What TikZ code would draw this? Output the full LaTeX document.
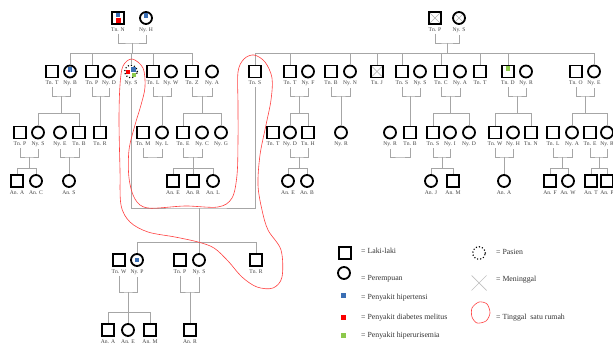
\documentclass[tikz,border=0pt]{standalone}
\usepackage{fontspec}
\setmainfont{Liberation Serif}
\usetikzlibrary{positioning,calc}

\definecolor{hipblue}{RGB}{58,110,180}
\definecolor{dmred}{RGB}{250,0,0}
\definecolor{hugreen}{RGB}{140,200,75}

\tikzset{
  male/.style={draw, line width=1.8pt, minimum size=12pt, inner sep=0pt},
  female/.style={male, circle},
  patient/.style={circle, draw, line width=1.6pt, dash pattern=on 0pt off 3.1pt, line cap=round, minimum size=12.5pt, inner sep=0pt},
  dead/.style={path picture={\draw[black!30, line width=0.6pt]
      (path picture bounding box.north west) -- (path picture bounding box.south east)
      (path picture bounding box.north east) -- (path picture bounding box.south west);}},
  ht/.style={fill=hipblue, minimum size=4.5pt, inner sep=0pt},
  dm/.style={fill=dmred, minimum size=4.5pt, inner sep=0pt},
  hu/.style={fill=hugreen, minimum size=4.5pt, inner sep=0pt},
  lbl/.style={font=\fontsize{5.6}{6}\selectfont, text=black!75, inner sep=0.5pt, outer sep=2pt},
  leg/.style={font=\fontsize{7.8}{8}\selectfont, text=black!80, inner sep=0pt, anchor=west},
  link/.style={draw=black!35, line width=0.8pt},
  home/.style={draw=red!75, line width=0.6pt}
}

\begin{document}
\begin{tikzpicture}[x=1pt, y=-1pt]
\useasboundingbox (0,0) rectangle (613,344);

% generasi I
\node[male, label={[lbl,name=tnN-l]below:Tn. N}] (tnN) at (118,18) {};
\node[ht, minimum height=4pt, yshift=2.8pt] (tnN-h) at (tnN) {};
\node[dm, minimum size=5pt, yshift=-2.4pt] (tnN-d) at (tnN) {};
\node[female, label={[lbl,name=nyH-l]below:Ny. H}] (nyH) at (146,18) {};
\node[ht, yshift=2.5pt] (nyH-h) at (nyH) {};
\node[male, dead, label={[lbl,name=tnP0-l]below:Tn. P}] (tnP0) at (435,18) {};
\node[female, dead, label={[lbl,name=nyS0-l]below:Ny. S}] (nyS0) at (459,18) {};

% generasi II
\node[male, label={[lbl,name=tnT-l]below:Tn. T}] (tnT) at (52,71.5) {};
\node[female, label={[lbl,name=nyB-l]below:Ny. B}] (nyB) at (70,71.5) {};
\node[ht, yshift=2.2pt] (nyB-h) at (nyB) {};
\node[male, label={[lbl,name=tnP-l]below:Tn. P}] (tnP) at (92,71.5) {};
\node[female, label={[lbl,name=nyD-l]below:Ny. D}] (nyD) at (109,71.5) {};
\node[patient, label={[lbl,name=pas-l]below:Ny. S}] (pas) at (131,71.5) {};
\node[dm, xshift=-3pt, yshift=-0.5pt] (pas-d) at (pas) {};
\node[ht, xshift=2.5pt, yshift=2pt] (pas-h) at (pas) {};
\node[hu, minimum size=4pt, xshift=3.2pt, yshift=-3.3pt] (pas-u) at (pas) {};
\node[male, label={[lbl,name=tnL-l]below:Tn. L}] (tnL) at (153,71.5) {};
\node[female, label={[lbl,name=nyW-l]below:Ny. W}] (nyW) at (171,71.5) {};
\node[male, label={[lbl,name=tnZ-l]below:Tn. Z}] (tnZ) at (192,71.5) {};
\node[female, label={[lbl,name=nyA-l]below:Ny. A}] (nyA) at (212,71.5) {};

\node[male, label={[lbl,name=tnS-l]below:Tn. S}] (tnS) at (255,71.5) {};
\node[male, label={[lbl,name=tnT2-l]below:Tn. T}] (tnT2) at (290,71.5) {};
\node[female, label={[lbl,name=nyF-l]below:Ny. F}] (nyF) at (308,71.5) {};
\node[male, label={[lbl,name=tnB-l]below:Tn. B}] (tnB) at (331,71.5) {};
\node[female, label={[lbl,name=nyN-l]below:Ny. N}] (nyN) at (350,71.5) {};
\node[male, dead, label={[lbl,name=tnJ-l]below:Tn. J}] (tnJ) at (377,71.5) {};
\node[male, label={[lbl,name=tnS2-l]below:Tn. S}] (tnS2) at (402,71.5) {};
\node[female, label={[lbl,name=nyS2-l]below:Ny. S}] (nyS2) at (420,71.5) {};
\node[male, label={[lbl,name=tnC-l]below:Tn. C}] (tnC) at (441,71.5) {};
\node[female, label={[lbl,name=nyA2-l]below:Ny. A}] (nyA2) at (460,71.5) {};
\node[male, label={[lbl,name=tnT3-l]below:Tn. T}] (tnT3) at (480,71.5) {};
\node[male, label={[lbl,name=tnD-l]below:Tn. D}] (tnD) at (508,71.5) {};
\node[hu, yshift=3pt] (tnD-u) at (tnD) {};
\node[female, label={[lbl,name=nyR-l]below:Ny. R}] (nyR) at (526,71.5) {};
\node[male, label={[lbl,name=tnO-l]below:Tn. O}] (tnO) at (576,71.5) {};
\node[female, label={[lbl,name=nyE-l]below:Ny. E}] (nyE) at (594,71.5) {};

% generasi III
\node[male, label={[lbl,name=tnP3-l]below:Tn. P}] (tnP3) at (20,132.5) {};
\node[female, label={[lbl,name=nyS3-l]below:Ny. S}] (nyS3) at (38,132.5) {};
\node[female, label={[lbl,name=nyE3-l]below:Ny. E}] (nyE3) at (60,132.5) {};
\node[male, label={[lbl,name=tnB3-l]below:Tn. B}] (tnB3) at (79,132.5) {};
\node[male, label={[lbl,name=tnR3-l]below:Tn. R}] (tnR3) at (100,132.5) {};
\node[male, label={[lbl,name=tnM-l]below:Tn. M}] (tnM) at (143,132.5) {};
\node[female, label={[lbl,name=nyL-l]below:Ny. L}] (nyL) at (162,132.5) {};
\node[male, label={[lbl,name=tnE-l]below:Tn. E}] (tnE) at (183,132.5) {};
\node[female, label={[lbl,name=nyC-l]below:Ny. C}] (nyC) at (202,132.5) {};
\node[female, label={[lbl,name=nyG-l]below:Ny. G}] (nyG) at (221,132.5) {};

\node[male, label={[lbl,name=tnT4-l]below:Tn. T}] (tnT4) at (273,132.5) {};
\node[female, label={[lbl,name=nyD4-l]below:Ny. D}] (nyD4) at (290,132.5) {};
\node[male, label={[lbl,name=tnH-l]below:Tn. H}] (tnH) at (308,132.5) {};
\node[female, label={[lbl,name=nyR4-l]below:Ny. R}] (nyR4) at (341,132.5) {};
\node[female, label={[lbl,name=nyR5-l]below:Ny. R}] (nyR5) at (390,132.5) {};
\node[male, label={[lbl,name=tnB5-l]below:Tn. B}] (tnB5) at (410,132.5) {};
\node[male, label={[lbl,name=tnS6-l]below:Tn. S}] (tnS6) at (433,132.5) {};
\node[female, label={[lbl,name=nyI-l]below:Ny. I}] (nyI) at (450,132.5) {};
\node[female, label={[lbl,name=nyD6-l]below:Ny. D}] (nyD6) at (469,132.5) {};
\node[male, label={[lbl,name=tnW-l]below:Tn. W}] (tnW) at (495,132.5) {};
\node[female, label={[lbl,name=nyH7-l]below:Ny. H}] (nyH7) at (513,132.5) {};
\node[male, label={[lbl,name=tnN7-l]below:Tn. N}] (tnN7) at (531,132.5) {};
\node[male, label={[lbl,name=tnL8-l]below:Tn. L}] (tnL8) at (553,132.5) {};
\node[female, label={[lbl,name=nyA8-l]below:Ny. A}] (nyA8) at (572,132.5) {};
\node[male, label={[lbl,name=tnE8-l]below:Tn. E}] (tnE8) at (590,132.5) {};
\node[female, label={[lbl,name=nyR8-l]below:Ny. R}] (nyR8) at (607,132.5) {};

% generasi IV
\node[male, label={[lbl,name=anA-l]below:An. A}] (anA) at (17,181) {};
\node[female, label={[lbl,name=anC-l]below:An. C}] (anC) at (36,181) {};
\node[female, label={[lbl,name=anS-l]below:An. S}] (anS) at (69,181) {};
\node[male, label={[lbl,name=anE-l]below:An. E}] (anE) at (173,181) {};
\node[male, label={[lbl,name=anR-l]below:An. R}] (anR) at (193,181) {};
\node[female, label={[lbl,name=anL-l]below:An. L}] (anL) at (213,181) {};
\node[female, label={[lbl,name=anE2-l]below:An. E}] (anE2) at (288,181) {};
\node[female, label={[lbl,name=anB2-l]below:An. B}] (anB2) at (307,181) {};
\node[female, label={[lbl,name=anJ-l]below:An. J}] (anJ) at (431,181) {};
\node[male, label={[lbl,name=anM-l]below:An. M}] (anM) at (453,181) {};
\node[female, label={[lbl,name=anA2-l]below:An. A}] (anA2) at (504,181) {};
\node[male, label={[lbl,name=anF-l]below:An. F}] (anF) at (550,181) {};
\node[female, label={[lbl,name=anW-l]below:An. W}] (anW) at (568,181) {};
\node[male, label={[lbl,name=anT-l]below:An. T}] (anT) at (591,181) {};
\node[male, label={[lbl,name=anP-l]below:An. P}] (anP) at (607,181) {};

% anak dan cucu pasien
\node[male, label={[lbl,name=tnW9-l]below:Tn. W}] (tnW9) at (119,260) {};
\node[female, label={[lbl,name=nyP-l]below:Ny. P}] (nyP) at (137,260) {};
\node[ht] (nyP-h) at (nyP) {};
\node[male, label={[lbl,name=tnP9-l]below:Tn. P}] (tnP9) at (180,260) {};
\node[female, label={[lbl,name=nyS9-l]below:Ny. S}] (nyS9) at (199,260) {};
\node[male, label={[lbl,name=tnR9-l]below:Tn. R}] (tnR9) at (256,260) {};
\node[male, label={[lbl,name=anA3-l]below:An. A}] (anA3) at (108,330) {};
\node[female, label={[lbl,name=anE3-l]below:An. E}] (anE3) at (128,330) {};
\node[male, label={[lbl,name=anM3-l]below:An. M}] (anM3) at (150,330) {};
\node[male, label={[lbl,name=anR3-l]below:An. R}] (anR3) at (190,330) {};

% titik bantu garis
\coordinate (lv2) at (0,53);
\coordinate (lv3) at (0,113);
\coordinate (lv4) at (0,168);
\coordinate (lv5) at (0,242);
\coordinate (lv6) at (0,312);
\coordinate (c0) at (132,43);   \coordinate (c00) at (447,43);
\coordinate (cTB) at (61,96);   \coordinate (cPD) at (100,96);
\coordinate (cLW) at (162,96);  \coordinate (cZA) at (202,96);
\coordinate (cST) at (199,208);
\coordinate (cTF) at (299,96);  \coordinate (cBN) at (341,96);
\coordinate (cSN) at (410,96);  \coordinate (cCA) at (450,96);
\coordinate (cDR) at (517,96);  \coordinate (cOE) at (585,96);
\coordinate (cPS) at (29,157);  \coordinate (cEB) at (69,157);
\coordinate (cML) at (152,157); \coordinate (cEC) at (193,157);
\coordinate (cDH) at (299,157); \coordinate (cRB) at (400,157);
\coordinate (cSI) at (442,157); \coordinate (cWH) at (504,157);
\coordinate (cLA) at (562,157); \coordinate (cER) at (599,157);
\coordinate (cWP) at (128,292); \coordinate (cPS9) at (190,292);

% pernikahan
\foreach \pa/\pb/\cp in {tnN/nyH/c0, tnP0/nyS0/c00, tnT/nyB/cTB, tnP/nyD/cPD,
    tnL/nyW/cLW, tnZ/nyA/cZA, pas/tnS/cST, tnT2/nyF/cTF, tnB/nyN/cBN,
    tnS2/nyS2/cSN, tnC/nyA2/cCA, tnD/nyR/cDR, tnO/nyE/cOE, tnP3/nyS3/cPS,
    nyE3/tnB3/cEB, tnM/nyL/cML, tnE/nyC/cEC, nyD4/tnH/cDH, nyR5/tnB5/cRB,
    tnS6/nyI/cSI, tnW/nyH7/cWH, tnL8/nyA8/cLA, tnE8/nyR8/cER,
    tnW9/nyP/cWP, tnP9/nyS9/cPS9}
  \draw[link] (\pa-l.south) |- (\cp) -| (\pb-l.south);

% keturunan
\draw[link] (c0) -- (c0 |- lv2);
\draw[link] (nyB.north) -- (nyB.north |- lv2) -- (tnZ.north |- lv2) -- (tnZ.north);
\foreach \p in {tnP,pas,tnL}
  \draw[link] (\p.north) -- (\p.north |- lv2);
\draw[link] (c00) -- (c00 |- lv2);
\draw[link] (tnS.north) -- (tnS.north |- lv2) -- (nyE.north |- lv2) -- (nyE.north);
\foreach \p in {tnT2,nyN,tnJ,tnS2,tnC,tnT3,tnD}
  \draw[link] (\p.north) -- (\p.north |- lv2);

\draw[link] (cTB) -- (cTB |- lv3);
\draw[link] (nyS3.north) -- (nyS3.north |- lv3) -- (tnB3.north |- lv3) -- (tnB3.north);
\draw[link] (cPD) -- (cPD |- tnR3.north);
\draw[link] (cLW) -- (cLW |- nyL.north);
\draw[link] (cZA) -- (cZA |- lv3);
\draw[link] (tnE.north) -- (tnE.north |- lv3) -- (nyG.north |- lv3) -- (nyG.north);
\draw[link] (cTF) -- (cTF |- lv3);
\draw[link] (nyD4.north) -- (nyD4.north |- lv3) -- (tnH.north |- lv3) -- (tnH.north);
\draw[link] (cBN) -- (cBN |- nyR4.north);
\draw[link] (cSN) -- (cSN |- tnB5.north);
\draw[link] (cCA) -- (cCA |- lv3);
\draw[link] (tnS6.north) -- (tnS6.north |- lv3) -- (nyD6.north |- lv3) -- (nyD6.north);
\draw[link] (cDR) -- (cDR |- lv3);
\draw[link] (tnW.north) -- (tnW.north |- lv3) -- (tnN7.north |- lv3) -- (tnN7.north);
\draw[link] (cOE) -- (cOE |- lv3);
\draw[link] (nyA8.north) -- (nyA8.north |- lv3) -- (nyR8.north |- lv3) -- (nyR8.north);

\draw[link] (cPS) -- (cPS |- lv4);
\draw[link] (anA.north) -- (anA.north |- lv4) -- (anC.north |- lv4) -- (anC.north);
\draw[link] (cEB) -- (cEB |- anS.north);
\draw[link] (cEC) -- (cEC |- anR.north);
\draw[link] (anE.north) -- (anE.north |- lv4) -- (anL.north |- lv4) -- (anL.north);
\draw[link] (cDH) -- (cDH |- lv4);
\draw[link] (anE2.north) -- (anE2.north |- lv4) -- (anB2.north |- lv4) -- (anB2.north);
\draw[link] (cSI) -- (cSI |- lv4);
\draw[link] (anJ.north) -- (anJ.north |- lv4) -- (anM.north |- lv4) -- (anM.north);
\draw[link] (cWH) -- (cWH |- anA2.north);
\draw[link] (cLA) -- (cLA |- lv4);
\draw[link] (anF.north) -- (anF.north |- lv4) -- (anW.north |- lv4) -- (anW.north);
\draw[link] (cER) -- (cER |- lv4);
\draw[link] (anT.north) -- (anT.north |- lv4) -- (anP.north |- lv4) -- (anP.north);

\draw[link] (cST) -- (cST |- nyS9.north);
\draw[link] (nyP.north) -- (nyP.north |- lv5) -- (tnR9.north |- lv5) -- (tnR9.north);
\draw[link] (cWP) -- (cWP |- anE3.north);
\draw[link] (anA3.north) -- (anA3.north |- lv6) -- (anM3.north |- lv6) -- (anM3.north);
\draw[link] (cPS9) -- (cPS9 |- anR3.north);

% tinggal satu rumah
\draw[home] plot[smooth cycle, tension=0.55] coordinates {
  (132,59) (123,66) (120,85) (119,120) (120,170) (121,205) (130,222)
  (148,232) (175,237) (198,242) (214,248) (228,261) (242,277) (257,287)
  (273,288) (282,277) (281,250) (268,230) (262,210) (258,185) (260,155)
  (266,125) (271,100) (272,78) (265,62) (254,55) (244,59) (238,72)
  (238,105) (238,140) (237,175) (232,198) (218,207) (185,206) (148,208)
  (135,199) (129,178) (129,150) (135,125) (141,105) (145,87) (143,68)};

% keterangan
\node[male] (lgM) at (345,253) {};
\node[leg] (lgM-t) at (361,251) {= Laki-laki};
\node[female] (lgF) at (344,273) {};
\node[leg] (lgF-t) at (361,279) {= Perempuan};
\node[ht, minimum size=5pt] (lgH) at (343,296) {};
\node[leg] (lgH-t) at (361,298) {= Penyakit hipertensi};
\node[dm, minimum size=5pt] (lgD) at (343,318) {};
\node[leg] (lgD-t) at (361,318) {= Penyakit diabetes melitus};
\node[hu, minimum size=5pt] (lgU) at (343,336) {};
\node[leg] (lgU-t) at (361,336) {= Penyakit hiperurisemia};
\node[patient] (lgP) at (479,253) {};
\node[leg] (lgP-t) at (496,252) {= Pasien};
\coordinate (lgX) at (479,283);
\draw[black!25, line width=0.7pt] ($(lgX)+(-7.5,-7.5)$) -- ($(lgX)+(7.5,7.5)$)
  ($(lgX)+(7.5,-7.5)$) -- ($(lgX)+(-7.5,7.5)$);
\node[leg] (lgX-t) at (496,280) {= Meninggal};
\draw[home] plot[smooth cycle] coordinates {(472,308) (479,302) (487,304) (490,313) (486,321) (477,323) (472,317)};
\node[leg] (lgR-t) at (496,318) {= Tinggal\ \ satu rumah};
\end{tikzpicture}
\end{document}
